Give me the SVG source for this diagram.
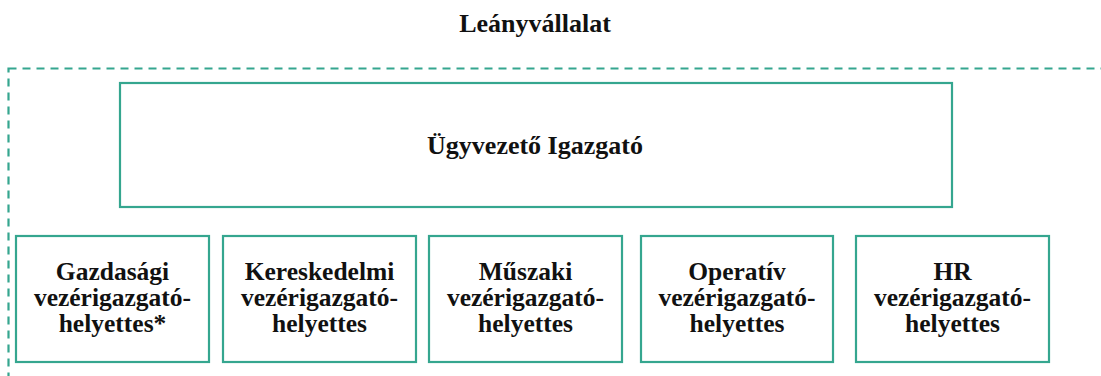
<svg xmlns="http://www.w3.org/2000/svg" width="1101" height="376" viewBox="0 0 1101 376">
<style>
.box{fill:#fff;stroke:#35a68f;stroke-width:2.2}
.frame{fill:none;stroke:#35a68f;stroke-width:2.2;stroke-dasharray:8 6}
.t{font-family:"Liberation Serif","Times New Roman",serif;font-weight:bold;font-size:26px;fill:#111;text-anchor:middle}
.s{font-size:25.5px}
</style>
<rect width="1101" height="376" fill="#fff"/>
<g id="subsidiary">
<rect class="frame" x="8.5" y="68.5" width="1110" height="320"/>
<text class="t" x="535" y="32">Leányvállalat</text>
</g>
<g id="connectors"></g>
<g id="ceo">
<rect class="box" x="120" y="83" width="832" height="124"/>
<text class="t" x="535" y="154">Ügyvezető Igazgató</text>
</g>
<g id="deputy-gazdasagi">
<rect class="box" x="16" y="236" width="193" height="126"/>
<text class="t s" x="112.5"><tspan x="112.5" y="280">Gazdasági</tspan><tspan x="112.5" y="306">vezérigazgató-</tspan><tspan x="112.5" y="332">helyettes*</tspan></text>
</g>
<g id="deputy-kereskedelmi">
<rect class="box" x="223" y="236" width="193" height="126"/>
<text class="t s" x="319.5"><tspan x="319.5" y="280">Kereskedelmi</tspan><tspan x="319.5" y="306">vezérigazgató-</tspan><tspan x="319.5" y="332">helyettes</tspan></text>
</g>
<g id="deputy-muszaki">
<rect class="box" x="429" y="236" width="193" height="126"/>
<text class="t s" x="525.5"><tspan x="525.5" y="280">Műszaki</tspan><tspan x="525.5" y="306">vezérigazgató-</tspan><tspan x="525.5" y="332">helyettes</tspan></text>
</g>
<g id="deputy-operativ">
<rect class="box" x="641" y="236" width="192" height="126"/>
<text class="t s" x="737"><tspan x="737" y="280">Operatív</tspan><tspan x="737" y="306">vezérigazgató-</tspan><tspan x="737" y="332">helyettes</tspan></text>
</g>
<g id="deputy-hr">
<rect class="box" x="856" y="236" width="193" height="126"/>
<text class="t s" x="952.5"><tspan x="952.5" y="280">HR</tspan><tspan x="952.5" y="306">vezérigazgató-</tspan><tspan x="952.5" y="332">helyettes</tspan></text>
</g>
</svg>
